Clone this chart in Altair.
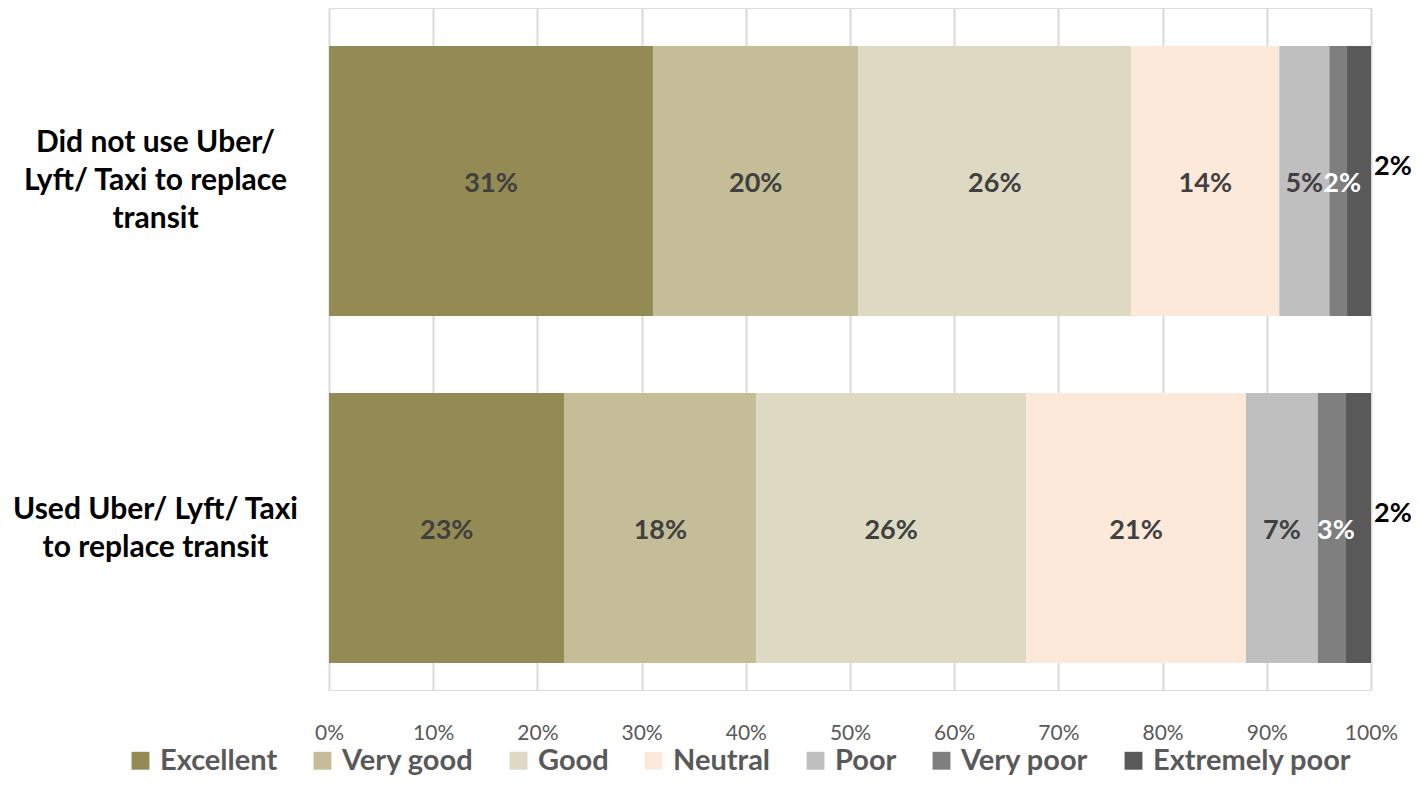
import altair as alt
import pandas as pd

groups = ["Did not use Uber/|Lyft/ Taxi to replace|transit",
          "Used Uber/ Lyft/ Taxi|to replace transit"]
ratings = ["Excellent", "Very good", "Good", "Neutral", "Poor", "Very poor", "Extremely poor"]
colors = ["#948A54", "#C4BD97", "#DDD9C3", "#FDE9D9", "#BFBFBF", "#7F7F7F", "#595959"]
did_not_use = [31.1, 19.7, 26.2, 14.2, 4.8, 1.7, 2.3]
used = [22.6, 18.4, 25.9, 21.1, 6.9, 2.7, 2.4]
tick_values = [0, 10, 20, 30, 40, 50, 60, 70, 80, 90, 100]

rows = []
for g, vals in zip(groups, [did_not_use, used]):
    for i, (r, v) in enumerate(zip(ratings, vals)):
        rows.append(dict(group=g, rating=r, order=i, value=v))
df = pd.DataFrame(rows)

FONT = "Lato"

base = alt.Chart(df).transform_stack(
    stack="value", groupby=["group"], as_=["x0", "x1"],
    sort=[alt.SortField("order", order="ascending")]
).transform_calculate(
    mid="(datum.x0 + datum.x1) / 2",
    label="round(datum.value) + '%'"
)

yenc = alt.Y(
    "group:N", sort=groups,
    scale=alt.Scale(paddingInner=0.222, paddingOuter=0.0937, align=0.585),
    axis=alt.Axis(title=None, labelExpr="split(datum.label, '|')", labelFont=FONT,
                  labelFontSize=30, labelFontWeight="bold", labelColor="#000000",
                  labelAlign="center", labelBaseline="middle", labelPadding=174,
                  labelLineHeight=38,
                  labelOffset=alt.condition("length(split(datum.label, '|')) == 3",
                                            alt.value(-38), alt.value(-18)),
                  ticks=False, domain=False, labelLimit=400),
)

xscale = alt.Scale(domain=[0, 100], nice=False)

bars = base.mark_bar().encode(
    x=alt.X("x0:Q", scale=xscale,
            axis=alt.Axis(values=tick_values, labelExpr="datum.value + '%'", title=None,
                          grid=True, gridColor="#D9D9D9", gridWidth=2, ticks=False,
                          domain=False, labelFont=FONT, labelFontSize=21,
                          labelColor="#595959", labelPadding=32, labelFlush=False)),
    x2="x1:Q",
    y=yenc,
    color=alt.Color("rating:N", scale=alt.Scale(domain=ratings, range=colors),
                    legend=alt.Legend(orient="none", direction="horizontal", title=None,
                                      legendX=-203, legendY=738, symbolType="square",
                                      symbolSize=320, symbolStrokeWidth=0,
                                      labelFont=FONT, labelFontSize=29,
                                      labelFontWeight="bold", labelColor="#595959",
                                      columnPadding=30, labelOffset=5, padding=0,
                                      labelLimit=400)),
)

text_kw = dict(font=FONT, fontSize=27, fontWeight="bold", baseline="middle", align="center")

dark_labels = base.mark_text(color="#404040", dy=3, **text_kw).encode(
    x=alt.X("mid:Q", scale=xscale), y=yenc, text="label:N"
).transform_filter("datum.order <= 4")

white_labels = base.mark_text(color="#FFFFFF", dy=3, dx=4, **text_kw).encode(
    x=alt.X("mid:Q", scale=xscale), y=yenc, text="label:N"
).transform_filter("datum.order == 5")

outer_labels = base.mark_text(color="#000000", dx=22, dy=-14, **text_kw).encode(
    x=alt.X("x1:Q", scale=xscale), y=yenc, text="label:N"
).transform_filter("datum.order == 6")

chart = alt.layer(bars, dark_labels, white_labels, outer_labels).properties(
    width=1042, height=682,
    autosize=alt.AutoSizeParams(type="none"),
    padding={"left": 321, "top": 0, "right": 40, "bottom": 87},
).configure_view(stroke=None).configure(background="white")

chart.save("out.html", embed_options={"renderer": "svg", "actions": False})
